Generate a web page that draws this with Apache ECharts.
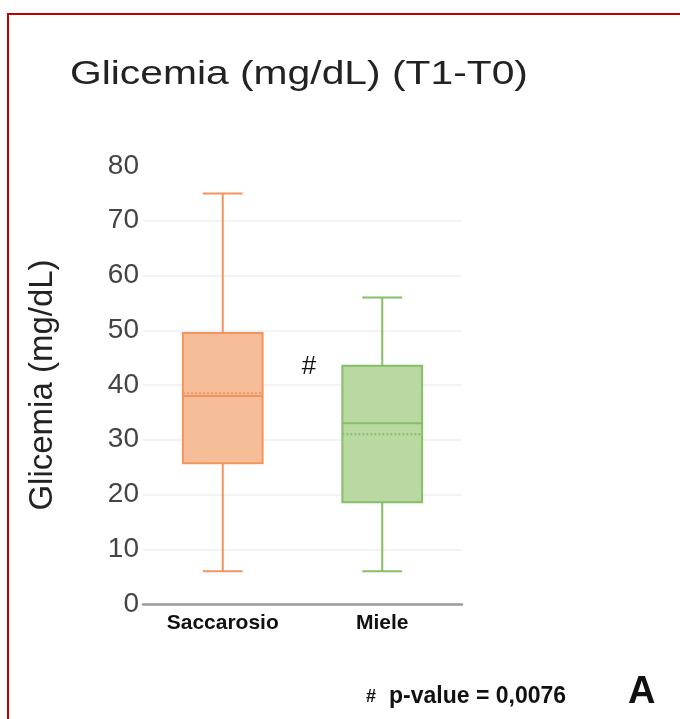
<!DOCTYPE html>
<html>
<head>
<meta charset="utf-8">
<script src="https://cdn.jsdelivr.net/npm/echarts@6/dist/echarts.min.js"></script>
<style>html,body{margin:0;padding:0;background:#fff}#c{width:680px;height:719px}</style>
</head>
<body>
<div id="c"></div>
<script>
const categories = ['Saccarosio', 'Miele'];
const minVals = [6, 6];
const q1Vals = [25.7, 18.6];
const medianVals = [38, 33];
const q3Vals = [49.5, 43.5];
const maxVals = [75, 56];
const meanVals = [38.5, 31];
const yTicks = [0, 10, 20, 30, 40, 50, 60, 70, 80];

const fills = ['#F6BE98', '#B9D8A2'];
const strokes = ['#F2945E', '#84BE66'];

const data = categories.map((c, i) => [i, minVals[i], q1Vals[i], medianVals[i], q3Vals[i], maxVals[i], meanVals[i]]);

function renderItem(params, api) {
  const i = api.value(0);
  const bw = api.size([1, 0])[0];
  const half = bw * 0.25, capHalf = bw * 0.125;
  const cx = api.coord([i, 0])[0];
  const y = k => api.coord([i, api.value(k)])[1];
  const yMin = y(1), yQ1 = y(2), yMed = y(3), yQ3 = y(4), yMax = y(5), yMean = y(6);
  const st = strokes[i];
  const line = (x1, y1, x2, y2, extra) => ({
    type: 'line', shape: { x1, y1, x2, y2 },
    style: Object.assign({ stroke: st, lineWidth: 2 }, extra || {})
  });
  return {
    type: 'group',
    children: [
      line(cx, yQ3, cx, yMax),
      line(cx, yQ1, cx, yMin),
      line(cx - capHalf, yMax, cx + capHalf, yMax),
      line(cx - capHalf, yMin, cx + capHalf, yMin),
      { type: 'rect', shape: { x: cx - half, y: yQ3, width: 2 * half, height: yQ1 - yQ3 },
        style: { fill: fills[i], stroke: st, lineWidth: 2 } },
      line(cx - half, yMean, cx + half, yMean, { lineWidth: 2, lineDash: [2, 2] }),
      line(cx - half, yMed, cx + half, yMed)
    ]
  };
}

const chart = echarts.init(document.getElementById('c'));
chart.setOption({
  animation: false,
  backgroundColor: '#fff',
  grid: { left: 143, right: 218, top: 166, bottom: 115 },
  xAxis: {
    type: 'category', data: categories,
    axisLine: { lineStyle: { color: '#9a9a9a', width: 2.5 } },
    axisTick: { show: false },
    axisLabel: { color: '#111', fontSize: 21, fontWeight: 'bold', fontFamily: 'Liberation Sans', margin: 9 }
  },
  yAxis: {
    type: 'value', min: yTicks[0], max: yTicks[yTicks.length - 1], interval: 10,
    name: 'Glicemia (mg/dL)', nameLocation: 'middle', nameGap: 84,
    nameTextStyle: { fontSize: 33, color: '#222', fontFamily: 'Liberation Sans' },
    axisLine: { show: false }, axisTick: { show: false },
    axisLabel: { color: '#444', fontSize: 28, fontFamily: 'Liberation Sans', margin: 4 },
    splitLine: { showMaxLine: false, lineStyle: { color: '#efefef', width: 1.5 } }
  },
  series: [{
    type: 'custom', renderItem, data,
    encode: { x: 0, y: [1, 2, 3, 4, 5, 6] }
  }],
  graphic: [
    { type: 'polyline', shape: { points: [[8, 719], [8, 14], [680, 14]] },
      style: { stroke: '#C00000', lineWidth: 2, fill: null } },
    { type: 'text', x: 70, y: 75, scaleX: 1.2,
      style: { text: 'Glicemia (mg/dL) (T1-T0)', fontSize: 34, fill: '#222', fontFamily: 'Liberation Sans', textVerticalAlign: 'middle' } },
    { type: 'text', x: 309, y: 367,
      style: { text: '#', fontSize: 26, fill: '#111', fontFamily: 'Liberation Sans', textAlign: 'center', textVerticalAlign: 'middle' } },
    { type: 'text', x: 366, y: 706,
      style: { text: '#', fontSize: 18, fontWeight: 'bold', fill: '#111', fontFamily: 'Liberation Sans', textVerticalAlign: 'bottom' } },
    { type: 'text', x: 389, y: 708,
      style: { text: 'p-value = 0,0076', fontSize: 23, fontWeight: 'bold', fill: '#111', fontFamily: 'Liberation Sans', textVerticalAlign: 'bottom' } },
    { type: 'text', x: 628, y: 712,
      style: { text: 'A', fontSize: 38, fontWeight: 'bold', fill: '#111', fontFamily: 'Liberation Sans', textVerticalAlign: 'bottom' } }
  ]
});
</script>
</body>
</html>
